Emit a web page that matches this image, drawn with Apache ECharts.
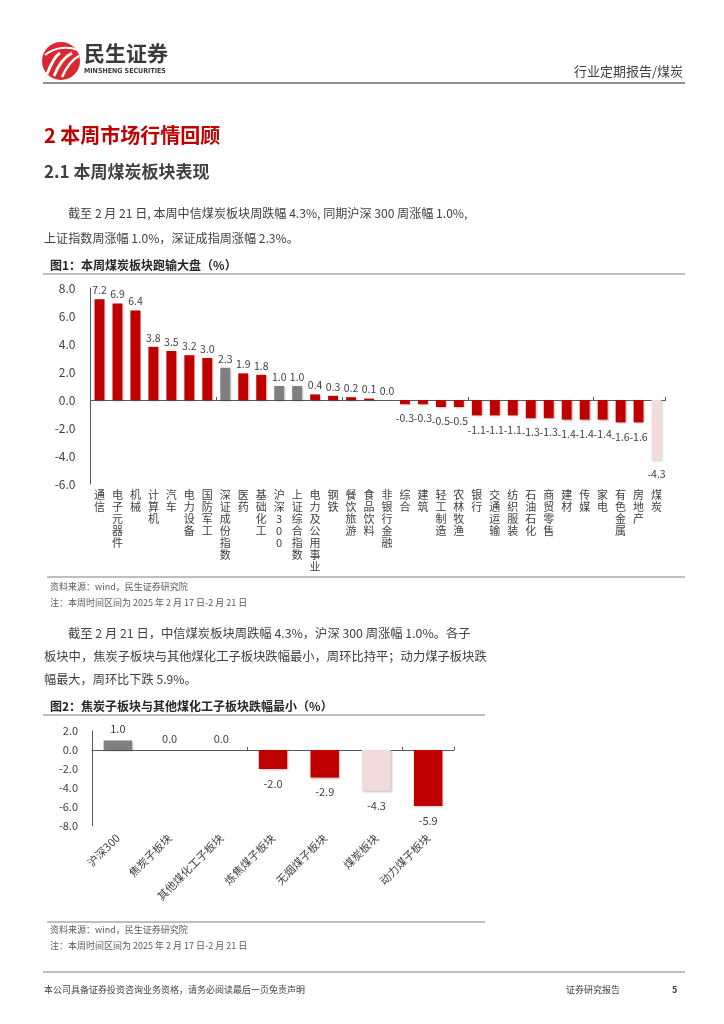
<!DOCTYPE html>
<html><head><meta charset="utf-8">
<script src="https://cdn.jsdelivr.net/npm/echarts@6/dist/echarts.min.js"></script>
<style>html,body{margin:0;padding:0;background:#fff}#c{width:724px;height:1024px}</style>
</head><body><div id="c"></div>
<script>
// ---- Data: Figure 1 ----
const cats1 = ['通信','电子元器件','机械','计算机','汽车','电力设备','国防军工','深证成份指数','医药','基础化工','沪深300','上证综合指数','电力及公用事业','钢铁','餐饮旅游','食品饮料','非银行金融','综合','建筑','轻工制造','农林牧渔','银行','交通运输','纺织服装','石油石化','商贸零售','建材','传媒','家电','有色金属','房地产','煤炭'];
const vals1 = [7.2,6.9,6.4,3.8,3.5,3.2,3.0,2.3,1.9,1.8,1.0,1.0,0.4,0.3,0.2,0.1,0.0,-0.3,-0.3,-0.5,-0.5,-1.1,-1.1,-1.1,-1.3,-1.3,-1.4,-1.4,-1.4,-1.6,-1.6,-4.3];
const indexCats1 = ['深证成份指数','沪深300','上证综合指数'];
const focusCat1 = '煤炭';
const yMin1 = -6, yMax1 = 8, yStep1 = 2;

// ---- Data: Figure 2 ----
const cats2 = ['沪深300','焦炭子板块','其他煤化工子板块','炼焦煤子板块','无烟煤子板块','煤炭板块','动力煤子板块'];
const vals2 = [1.0,0.0,0.0,-2.0,-2.9,-4.3,-5.9];
const indexCats2 = ['沪深300'];
const focusCat2 = '煤炭板块';
const yMin2 = -8, yMax2 = 2, yStep2 = 2;

// ---- Styles ----
const RED = '#C00000', GREY = '#7F7F7F', PINK = '#F2DCDB';
const FONT = '"Noto Sans CJK SC","Noto Sans",sans-serif';
const AX = '#595959', TXT = '#404040';

function colorFor(cat, idx, focus){ return idx.includes(cat) ? GREY : (cat === focus ? PINK : RED); }
function items(cats, vals, idx, focus, posDist, negDist){
  return vals.map((v,i)=>({
    value: v,
    itemStyle:{color: colorFor(cats[i], idx, focus)},
    label:{position: v < 0 ? 'bottom' : 'top', distance: v < 0 ? negDist : posDist}
  }));
}

const chart = echarts.init(document.getElementById('c'), null, {renderer:'canvas'});

const g = [];
function txt(x,y,text,size,color,weight,align,family){
  g.push({type:'text', x:x, y:y, silent:true, style:{text:text, fill:color||TXT, fontSize:size, fontWeight:weight||'normal',
    fontFamily: family||FONT, align:align||'left', verticalAlign:'middle'}});
}
function line(x1,y1,x2,y2,color,w){
  g.push({type:'line', silent:true, shape:{x1:x1,y1:y1,x2:x2,y2:y2}, style:{stroke:color, lineWidth:w}});
}
// header/logo
g.push({type:'circle', shape:{cx:61,cy:61,r:19}, style:{fill:'#D9282F'}});
g.push({type:'bezierCurve', shape:{x1:47,y1:74,x2:60,y2:53,cpx1:51,cpy1:64,cpx2:55,cpy2:56}, style:{stroke:'#fff', lineWidth:3, fill:null}});
g.push({type:'bezierCurve', shape:{x1:54,y1:76,x2:72,y2:53,cpx1:58,cpy1:66,cpx2:64,cpy2:57}, style:{stroke:'#fff', lineWidth:3, fill:null}});
g.push({type:'bezierCurve', shape:{x1:62,y1:77,x2:79,y2:56,cpx1:66,cpy1:68,cpx2:71,cpy2:60}, style:{stroke:'#fff', lineWidth:2.5, fill:null}});
g.push({type:'bezierCurve', shape:{x1:45,y1:55,x2:78,y2:50,cpx1:55,cpy1:47,cpx2:68,cpy2:46}, style:{stroke:'#fff', lineWidth:2, fill:null}});
txt(84,53,'民生证券',21,'#3a3a3a','bold');
txt(84,71,'MINSHENG SECURITIES',7,'#3a3a3a','bold','left','"DejaVu Sans Condensed","Liberation Sans Narrow",sans-serif');
txt(683,71,'行业定期报告/煤炭',13,TXT,'normal','right');
line(43,83,685,83,'#6d6d6d',1.5);
// section titles
txt(44,135,'2 本周市场行情回顾',20,RED,'bold');
txt(44,172,'2.1 本周煤炭板块表现',17,'#404040','bold');
txt(68,213,'截至 2 月 21 日, 本周中信煤炭板块周跌幅 4.3%, 同期沪深 300 周涨幅 1.0%,',12.1,'#404040');
txt(44,238,'上证指数周涨幅 1.0%，深证成指周涨幅 2.3%。',12.1,'#404040');
txt(50,265,'图1：本周煤炭板块跑输大盘（%）',12,'#262626','bold');
line(43,274,685,274,'#7f7f7f',1);
line(47,577,685,577,'#7f7f7f',1);
txt(50,587,'资料来源：wind，民生证券研究院',9,'#595959');
txt(50,603,'注：本周时间区间为 2025 年 2 月 17 日-2 月 21 日',9,'#595959');
txt(68,633,'截至 2 月 21 日，中信煤炭板块周跌幅 4.3%，沪深 300 周涨幅 1.0%。各子',12.3,'#404040');
txt(44,656,'板块中，焦炭子板块与其他煤化工子板块跌幅最小，周环比持平；动力煤子板块跌',12.3,'#404040');
txt(44,679,'幅最大，周环比下跌 5.9%。',12.2,'#404040');
txt(50,706,'图2：焦炭子板块与其他煤化工子板块跌幅最小（%）',12,'#262626','bold');
line(43,715,485,715,'#7f7f7f',1);
line(47,922,485,922,'#7f7f7f',1);
txt(50,930,'资料来源：wind，民生证券研究院',9,'#595959');
txt(50,946,'注：本周时间区间为 2025 年 2 月 17 日-2 月 21 日',9,'#595959');
line(43,972,685,972,'#7f7f7f',1.2);
txt(44,990,'本公司具备证券投资咨询业务资格，请务必阅读最后一页免责声明',9,'#404040');
txt(566,990,'证券研究报告',9,'#404040');
txt(672,990,'5',9,'#404040','bold');

const labelCommon = {show:true, color:TXT, fontSize:10.5, fontFamily:FONT, formatter:p=>Number(p.value).toFixed(1)};
const shadow = {shadowColor:'rgba(0,0,0,0.25)', shadowBlur:2, shadowOffsetX:1, shadowOffsetY:1};

const option = {
  animation:false,
  backgroundColor:'#fff',
  graphic: g,
  grid:[
    {left:90.5, top:288, width:575, height:196, containLabel:false},
    {left:92, top:731, width:362, height:95, containLabel:false}
  ],
  xAxis:[
    {type:'category', gridIndex:0, data:cats1, axisLine:{onZero:true, lineStyle:{color:AX}}, axisTick:{show:true, inside:true, length:3, lineStyle:{color:AX}}, axisLabel:{show:false}},
    {type:'category', gridIndex:0, data:cats1, position:'bottom', axisLine:{show:false, onZero:false}, axisTick:{show:false},
      axisLabel:{interval:0, margin:5, fontSize:11, lineHeight:12, color:TXT, fontFamily:FONT, verticalAlign:'top', formatter:v=>v.split('').join('\n')}},
    {type:'category', gridIndex:1, data:cats2, axisLine:{onZero:true, lineStyle:{color:AX}}, axisTick:{show:true, inside:true, length:3, lineStyle:{color:AX}}, axisLabel:{show:false}},
    {type:'category', gridIndex:1, data:cats2, position:'bottom', axisLine:{show:false, onZero:false}, axisTick:{show:false},
      axisLabel:{interval:0, margin:10, rotate:45, fontSize:11, color:TXT, fontFamily:FONT}}
  ],
  yAxis:[
    {type:'value', gridIndex:0, min:yMin1, max:yMax1, interval:yStep1, splitLine:{show:false}, axisLine:{show:true, lineStyle:{color:AX}}, axisTick:{show:false},
      axisLabel:{margin:15, fontSize:12, color:TXT, fontFamily:FONT, formatter:v=>v.toFixed(1)}},
    {type:'value', gridIndex:1, min:yMin2, max:yMax2, interval:yStep2, splitLine:{show:false}, axisLine:{show:true, lineStyle:{color:AX}}, axisTick:{show:false},
      axisLabel:{margin:14, fontSize:11, color:TXT, fontFamily:FONT, formatter:v=>v.toFixed(1)}}
  ],
  series:[
    {type:'bar', xAxisIndex:0, yAxisIndex:0, barWidth:'55%', data:items(cats1, vals1, indexCats1, focusCat1, 4, 9), label:labelCommon, itemStyle:shadow},
    {type:'bar', xAxisIndex:2, yAxisIndex:1, barWidth:'55%', data:items(cats2, vals2, indexCats2, focusCat2, 6, 9), label:Object.assign({}, labelCommon, {fontSize:11}), itemStyle:shadow}
  ]
};
chart.setOption(option);
</script></body></html>
